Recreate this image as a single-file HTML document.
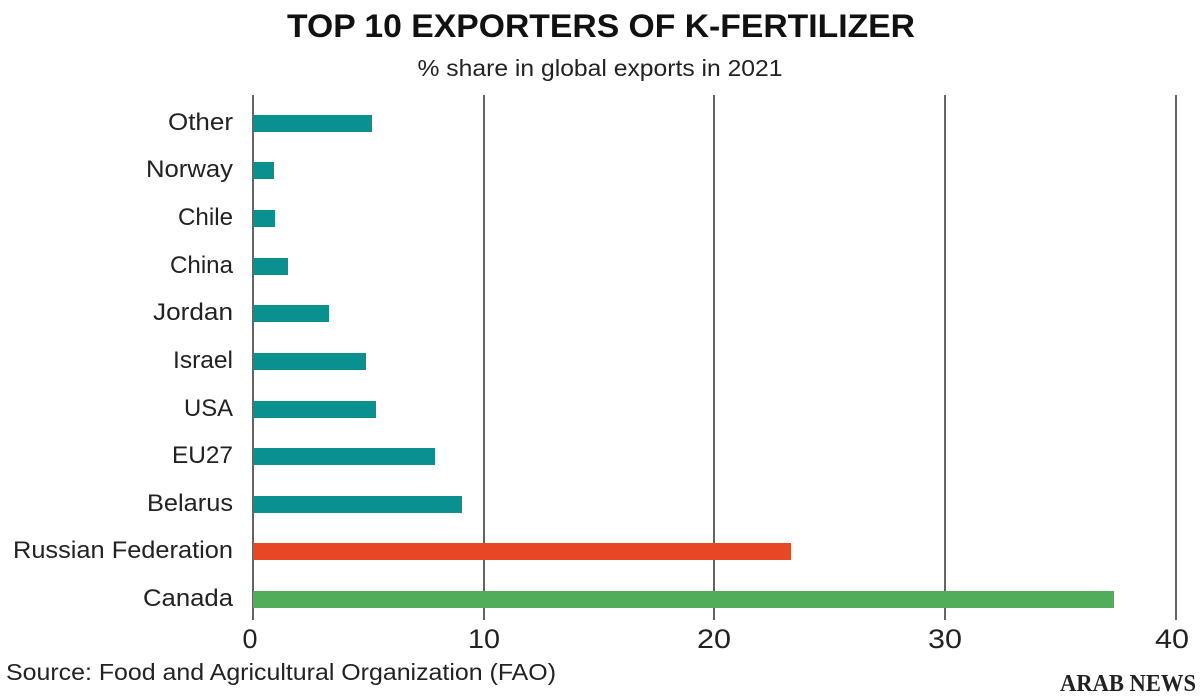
<!DOCTYPE html>
<html><head><meta charset="utf-8"><style>
html,body{margin:0;padding:0;background:#fff;}
svg{display:block;}
text{font-family:"Liberation Sans",sans-serif;fill:#222;}
</style></head><body>
<svg width="1200" height="697" viewBox="0 0 1200 697" xmlns="http://www.w3.org/2000/svg">
<text x="601" y="37" text-anchor="middle" font-size="32" font-weight="bold" textLength="628" lengthAdjust="spacingAndGlyphs" style="fill:#111">TOP 10 EXPORTERS OF K-FERTILIZER</text>
<text x="600" y="76" text-anchor="middle" font-size="23" textLength="365" lengthAdjust="spacingAndGlyphs">% share in global exports in 2021</text>
<g stroke="#111" stroke-width="1.3">
<line x1="253" y1="95" x2="253" y2="620"/>
<line x1="484" y1="95" x2="484" y2="620"/>
<line x1="714" y1="95" x2="714" y2="620"/>
<line x1="945" y1="95" x2="945" y2="620"/>
<line x1="1176" y1="95" x2="1176" y2="620"/>
</g>
<g fill="#08918f">
<rect x="253" y="115" width="119" height="17"/>
<rect x="253" y="162" width="21" height="17"/>
<rect x="253" y="210" width="22" height="17"/>
<rect x="253" y="258" width="35" height="17"/>
<rect x="253" y="305" width="76" height="17"/>
<rect x="253" y="353" width="113" height="17"/>
<rect x="253" y="401" width="123" height="17"/>
<rect x="253" y="448" width="182" height="17"/>
<rect x="253" y="496" width="209" height="17"/>
</g>
<rect x="253" y="543" width="538" height="17" fill="#e84726"/>
<rect x="253" y="591" width="861" height="17" fill="#52ad5b"/>
<g font-size="24" text-anchor="end">
<text x="233" y="130" textLength="65" lengthAdjust="spacingAndGlyphs">Other</text>
<text x="233" y="177" textLength="87" lengthAdjust="spacingAndGlyphs">Norway</text>
<text x="233" y="225" textLength="55" lengthAdjust="spacingAndGlyphs">Chile</text>
<text x="233" y="273" textLength="63" lengthAdjust="spacingAndGlyphs">China</text>
<text x="233" y="320" textLength="80" lengthAdjust="spacingAndGlyphs">Jordan</text>
<text x="233" y="368" textLength="60" lengthAdjust="spacingAndGlyphs">Israel</text>
<text x="233" y="416" textLength="49" lengthAdjust="spacingAndGlyphs">USA</text>
<text x="233" y="463" textLength="61" lengthAdjust="spacingAndGlyphs">EU27</text>
<text x="233" y="511" textLength="86" lengthAdjust="spacingAndGlyphs">Belarus</text>
<text x="233" y="558" textLength="220" lengthAdjust="spacingAndGlyphs">Russian Federation</text>
<text x="233" y="606" textLength="90" lengthAdjust="spacingAndGlyphs">Canada</text>
</g>
<g font-size="27" text-anchor="middle">
<text x="250" y="648" textLength="15" lengthAdjust="spacingAndGlyphs">0</text>
<text x="484" y="648" textLength="32" lengthAdjust="spacingAndGlyphs">10</text>
<text x="714" y="648" textLength="34" lengthAdjust="spacingAndGlyphs">20</text>
<text x="945" y="648" textLength="34" lengthAdjust="spacingAndGlyphs">30</text>
<text x="1172" y="648" textLength="34" lengthAdjust="spacingAndGlyphs">40</text>
</g>
<text x="6" y="680" font-size="23" textLength="550" lengthAdjust="spacingAndGlyphs">Source: Food and Agricultural Organization (FAO)</text>
<text x="1196" y="691" text-anchor="end" font-size="24" font-weight="bold" textLength="136" lengthAdjust="spacingAndGlyphs" style="font-family:'Liberation Serif',serif;fill:#222">ARAB NEWS</text>
</svg>
</body></html>
